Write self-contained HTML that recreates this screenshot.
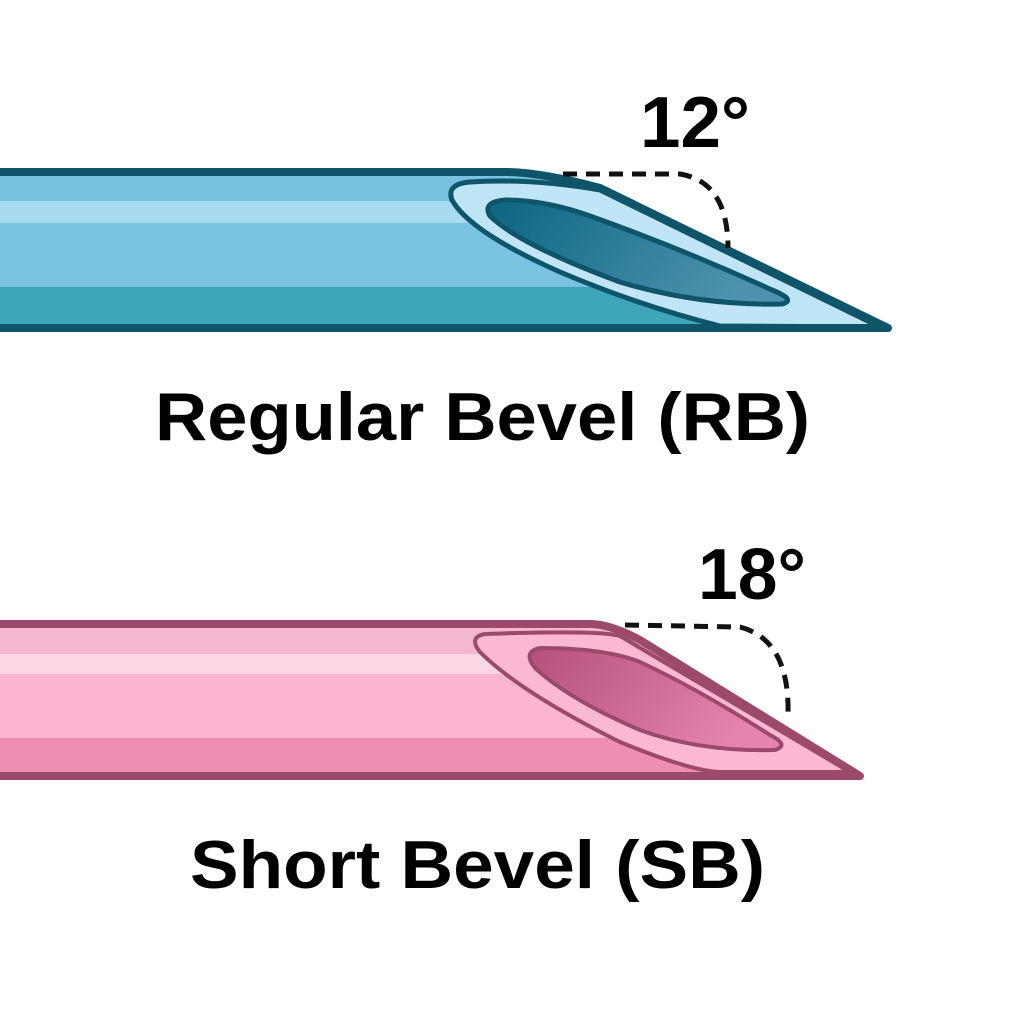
<!DOCTYPE html>
<html><head><style>html,body{margin:0;padding:0;background:#fff;}svg{display:block}</style></head>
<body>
<svg width="1024" height="1024" viewBox="0 0 1024 1024" xmlns="http://www.w3.org/2000/svg">
<defs>
<clipPath id="cb"><path d="M0 172 L505 172 Q540 172 600 188 L888 328 L0 328 Z"/></clipPath>
<clipPath id="cp"><path d="M0 624 L590 624 Q610 624 640 640 L860 776 L0 776 Z"/></clipPath>
<linearGradient id="lb" x1="0" y1="0" x2="1" y2="0.3"><stop offset="0" stop-color="#0b6583"/><stop offset="1" stop-color="#4d93ad"/></linearGradient>
<linearGradient id="lp" x1="0" y1="0" x2="1" y2="0.3"><stop offset="0" stop-color="#b5507a"/><stop offset="1" stop-color="#e585ad"/></linearGradient>
</defs>
<g clip-path="url(#cb)">
<rect x="0" y="170" width="900" height="165" fill="#78c3e0"/>
<rect x="0" y="178" width="900" height="23" fill="#76c1de"/>
<rect x="0" y="201" width="900" height="22" fill="#a6daef"/>
<rect x="0" y="287" width="900" height="45" fill="#3fa6ba"/>
</g>
<path d="M470 182 Q446 184 452 200 Q470 232 560 272 Q640 306 720 326 L880 327 L600 190 Q530 178 470 182 Z" fill="#bfe5f7" stroke="#0f5468" stroke-width="5" stroke-linejoin="round"/>
<path d="M0 172 L505 172 Q540 172 600 188 L888 328 L0 328" fill="none" stroke="#0f5468" stroke-width="8" stroke-linejoin="round"/>
<path d="M0 328 L888 328" stroke="#0f5468" stroke-width="8"/>
<path d="M505 200 Q482 202 490 216 Q520 245 620 282 Q700 306 782 304 Q797 300 772 290 Q680 248 590 216 Q545 200 505 200 Z" fill="url(#lb)" stroke="#0f5468" stroke-width="5"/>
<path d="M563 174 L680 174 Q728 182 728 248" fill="none" stroke="#111" stroke-width="5" stroke-dasharray="14 9"/>
<g clip-path="url(#cp)">
<rect x="0" y="622" width="900" height="160" fill="#fbb5d0"/>
<rect x="0" y="630" width="900" height="24" fill="#f4b7cf"/>
<rect x="0" y="654" width="900" height="20" fill="#fcd6e4"/>
<rect x="0" y="738" width="900" height="40" fill="#ef8db3"/>
</g>
<path d="M485 634 Q468 637 480 652 Q520 692 620 742 Q690 771 720 772 L850 772 L620 636 Q600 630 485 634 Z" fill="#fbb8d2" stroke="#9c4a6b" stroke-width="4" stroke-linejoin="round"/>
<path d="M0 624 L590 624 Q610 624 640 640 L860 776 L0 776" fill="none" stroke="#9c4a6b" stroke-width="8" stroke-linejoin="round"/>
<path d="M0 776 L860 776" stroke="#9c4a6b" stroke-width="8"/>
<path d="M540 648 Q522 652 535 668 Q570 700 640 730 Q700 752 775 750 Q790 745 770 735 Q700 690 640 662 Q605 648 540 648 Z" fill="url(#lp)" stroke="#9c4a6b" stroke-width="4"/>
<path d="M625 625 L740 627 Q790 640 788 715" fill="none" stroke="#111" stroke-width="5" stroke-dasharray="14 9"/>
<g font-family="Liberation Sans, sans-serif" font-weight="bold" fill="#000">
<text x="640" y="147" font-size="72" textLength="110" lengthAdjust="spacingAndGlyphs">12°</text>
<text x="698" y="599" font-size="72" textLength="108" lengthAdjust="spacingAndGlyphs">18°</text>
<text x="155" y="440" font-size="68" textLength="655" lengthAdjust="spacingAndGlyphs">Regular Bevel (RB)</text>
<text x="190" y="888" font-size="68" textLength="575" lengthAdjust="spacingAndGlyphs">Short Bevel (SB)</text>
</g>
</svg>
</body></html>
